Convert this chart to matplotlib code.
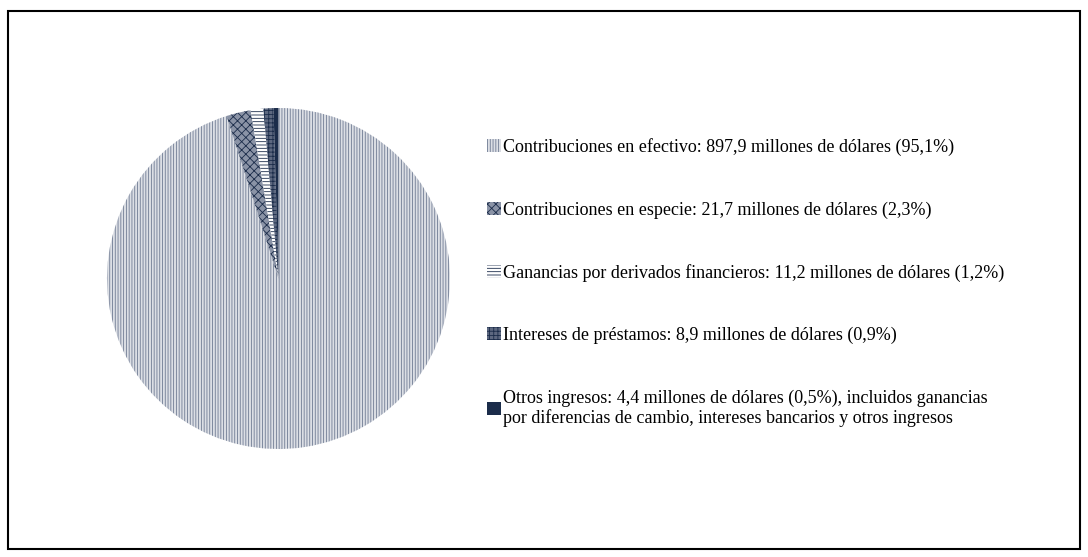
"""Pie chart: ingresos por tipo (millones de dólares)."""

import matplotlib.pyplot as plt
from matplotlib.patches import Patch, Rectangle

plt.rcParams["font.family"] = ["Liberation Serif", "DejaVu Serif"]
plt.rcParams["hatch.linewidth"] = 0.6

NAVY = "#1b2c4a"

labels = [
    "Contribuciones en efectivo: 897,9 millones de dólares (95,1%)",
    "Contribuciones en especie: 21,7 millones de dólares (2,3%)",
    "Ganancias por derivados financieros: 11,2 millones de dólares (1,2%)",
    "Intereses de préstamos: 8,9 millones de dólares (0,9%)",
    "Otros ingresos: 4,4 millones de dólares (0,5%), incluidos ganancias\n"
    "por diferencias de cambio, intereses bancarios y otros ingresos",
]
values = [897.9, 21.7, 11.2, 8.9, 4.4]

faces = ["#dcdfe5", "#8a93a6", "white", "#5d6880", NAVY]
edges = ["#6f7b93", NAVY, NAVY, NAVY, NAVY]
hatches = ["||||||", "xxxx", "-----", "++++", None]


def setup_plot():
    fig = plt.figure(figsize=(10.88, 5.57), dpi=100)
    fig.patches.append(Rectangle((8 / 1088, 8 / 557), 1072 / 1088, 538 / 557,
                                 transform=fig.transFigure, fill=False,
                                 edgecolor="black", linewidth=1.5))
    ax = fig.add_axes([107 / 1088, 108 / 557, 343 / 1088, 341 / 557])
    return fig, ax


if __name__ == "__main__":
    fig, ax = setup_plot()

    wedges, _ = ax.pie(values, startangle=90, counterclock=False,
                       wedgeprops=dict(linewidth=0))
    for w, fc, ec, h in zip(wedges, faces, edges, hatches):
        w.set_facecolor(fc)
        w.set_edgecolor(ec)
        w.set_linewidth(0)
        if h:
            w.set_hatch(h)
    ax.set_xlim(-1, 1)
    ax.set_ylim(-1, 1)
    ax.set_aspect("auto")

    handles = [Patch(facecolor=fc, edgecolor=ec, hatch=h, linewidth=0)
               for fc, ec, h in zip(faces, edges, hatches)]
    fig.legend(handles, labels, loc="upper left",
               bbox_to_anchor=(480 / 1088, 1 - 131 / 557),
               frameon=False, fontsize=13, handlelength=0.75,
               handleheight=0.75, handletextpad=0.15, labelspacing=2.5,
               borderaxespad=0)

    plt.savefig("out.png", dpi=100)
